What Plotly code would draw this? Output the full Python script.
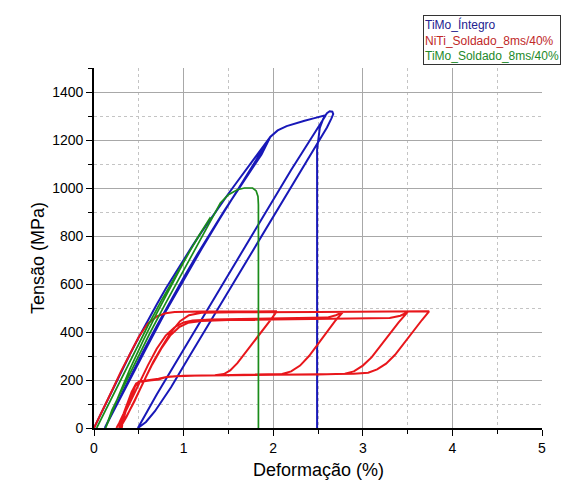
import plotly.graph_objects as go

# --- TiMo_Íntegro: two loading cycles, hardening to peak, then fracture ---
timo_int_strain = [
    0.00, 0.10, 0.20, 0.30, 0.40, 0.50, 0.60, 0.70, 0.80, 0.90, 1.00, 1.10, 1.20, 1.30, 1.40,
    1.50, 1.60, 1.70, 1.80, 1.90, 1.97,
    1.80, 1.60, 1.40, 1.20, 1.00, 0.80, 0.60, 0.40, 0.25, 0.12,
    0.25, 0.40, 0.55, 0.70, 0.85, 1.00, 1.15, 1.30, 1.45, 1.60, 1.75, 1.87, 1.97,
    2.05, 2.15, 2.25, 2.35, 2.45, 2.52, 2.57, 2.58,
    2.20, 1.80, 1.40, 1.00, 0.70, 0.49,
    0.58, 0.68, 0.78, 0.86, 1.05, 1.30, 1.55, 1.80, 2.05, 2.30, 2.50, 2.60, 2.65, 2.67, 2.66, 2.63,
    2.60, 2.56, 2.52, 2.50, 2.49, 2.49,
]
timo_int_stress = [
    0, 78, 156, 232, 306, 378, 448, 515, 580, 642, 702, 760, 816, 871, 924,
    976, 1027, 1077, 1127, 1177, 1214,
    1110, 992, 870, 746, 618, 485, 345, 200, 90, 0,
    98, 210, 320, 425, 527, 626, 722, 815, 903, 988, 1070, 1140, 1214,
    1240, 1258, 1270, 1280, 1290, 1297, 1302, 1299,
    1075, 826, 577, 328, 140, 0,
    25, 70, 125, 170, 290, 445, 600, 755, 910, 1065, 1190, 1252, 1290, 1308, 1318, 1320,
    1312, 1290, 1250, 1200, 1160, 0,
]

# --- NiTi_Soldado_8ms/40%: superelastic cycles of increasing strain ---
niti_strain = [
    # cycle 1 (to ~2.0 %)
    0.00, 0.10, 0.20, 0.30, 0.40, 0.50, 0.60, 0.70, 0.80, 0.90, 1.20, 1.60, 2.00, 2.04,
    1.98, 1.90, 1.80, 1.70, 1.60, 1.52, 1.45, 1.35, 1.10, 0.90, 0.80, 0.72, 0.62, 0.52,
    0.47, 0.42, 0.38, 0.33, 0.28, 0.25,
    # cycle 2 (to ~2.8 %)
    0.32, 0.40, 0.50, 0.60, 0.70, 0.80, 0.90, 1.00, 1.10, 1.30, 1.80, 2.40, 2.60, 2.70, 2.78,
    2.70, 2.60, 2.50, 2.40, 2.30, 2.20, 2.10, 1.80, 1.40, 1.00, 0.82, 0.72, 0.60, 0.50,
    0.45, 0.40, 0.35, 0.30, 0.28,
    # cycle 3 (to ~3.5 %)
    0.35, 0.45, 0.55, 0.65, 0.75, 0.85, 0.95, 1.05, 1.20, 1.50, 2.00, 3.00, 3.30, 3.42, 3.50,
    3.40, 3.30, 3.20, 3.10, 3.00, 2.90, 2.80, 2.50, 2.00, 1.50, 1.00, 0.82, 0.72, 0.60, 0.50,
    0.45, 0.40, 0.35, 0.30, 0.29,
    # cycle 4 (to ~3.7 %)
    0.36, 0.46, 0.56, 0.66, 0.76, 0.86, 0.96, 1.06, 1.20, 1.60, 2.50, 3.50, 3.74,
    3.66, 3.56, 3.46, 3.36, 3.26, 3.16, 3.06, 2.90, 2.50, 2.00, 1.50, 1.00, 0.82, 0.72, 0.60, 0.50,
    0.46, 0.41, 0.36, 0.32, 0.31,
]
niti_stress = [
    0, 75, 155, 235, 310, 380, 435, 465, 478, 483, 485, 485, 486, 486,
    455, 415, 365, 315, 270, 240, 225, 220, 218, 216, 212, 202, 198, 195,
    185, 150, 110, 60, 20, 0,
    45, 105, 185, 260, 330, 385, 420, 440, 448, 452, 455, 457, 460, 470, 484,
    450, 400, 350, 300, 260, 236, 225, 222, 220, 218, 213, 203, 198, 192,
    170, 125, 70, 20, 0,
    40, 110, 190, 265, 330, 385, 420, 438, 446, 450, 452, 455, 458, 468, 483,
    440, 390, 340, 295, 260, 236, 226, 223, 222, 220, 218, 214, 205, 199, 193,
    172, 128, 75, 22, 0,
    45, 120, 200, 275, 340, 400, 445, 470, 480, 482, 483, 484, 486,
    450, 400, 350, 305, 268, 244, 230, 226, 224, 222, 220, 218, 214, 204, 199, 194,
    175, 130, 78, 25, 0,
]

# --- TiMo_Soldado_8ms/40%: partial cycle, reload to peak, fracture ---
timo_sold_strain = [
    0.03, 0.15, 0.30, 0.45, 0.60, 0.75, 0.90, 1.05, 1.20, 1.30,
    1.15, 1.00, 0.85, 0.70, 0.55, 0.40, 0.27, 0.18, 0.13,
    0.20, 0.35, 0.50, 0.63, 0.80, 0.96, 1.12, 1.27, 1.41, 1.50, 1.60, 1.68, 1.77,
    1.81, 1.83, 1.835, 1.835,
]
timo_sold_stress = [
    0, 90, 205, 318, 425, 530, 630, 725, 818, 878,
    790, 690, 585, 478, 365, 245, 130, 45, 0,
    75, 190, 300, 400, 520, 630, 742, 845, 937, 972, 993, 1000, 1000,
    988, 965, 930, 0,
]

x_ticks = [0, 1, 2, 3, 4, 5]
y_ticks = [0, 200, 400, 600, 800, 1000, 1200, 1400]

series_names = ["TiMo_Íntegro", "NiTi_Soldado_8ms/40%", "TiMo_Soldado_8ms/40%"]
line_colors = ["#1818b8", "#e8161b", "#1a8c1a"]
label_colors = ["#22228f", "#c02828", "#22892a"]

fig = go.Figure()
for xs, ys, name, col, w in [
    (timo_int_strain, timo_int_stress, series_names[0], line_colors[0], 2.0),
    (niti_strain, niti_stress, series_names[1], line_colors[1], 2.0),
    (timo_sold_strain, timo_sold_stress, series_names[2], line_colors[2], 1.7),
]:
    fig.add_trace(go.Scatter(x=xs, y=ys, mode="lines", name=name,
                             line=dict(color=col, width=w), showlegend=False))

axis_font = dict(family="Liberation Sans, Arial, sans-serif", size=14, color="black")
fig.update_xaxes(
    range=[0, 5], tickvals=x_ticks, ticktext=[str(v) for v in x_ticks],
    showline=True, linecolor="black", linewidth=1.8, mirror=False,
    ticks="outside", ticklen=6, tickwidth=1.4, tickcolor="black",
    showgrid=True, gridcolor="#a8a8a8", gridwidth=1, zeroline=False,
    tickfont=axis_font,
    minor=dict(dtick=0.5, ticks="outside", ticklen=4, tickcolor="black", tickwidth=1.2,
               showgrid=True, gridcolor="#c4c4c4", griddash="dot", gridwidth=1),
)
fig.update_yaxes(
    range=[0, 1500], tickvals=y_ticks, ticktext=[str(v) for v in y_ticks],
    showline=True, linecolor="black", linewidth=1.8, mirror=False,
    ticks="outside", ticklen=6, tickwidth=1.4, tickcolor="black",
    showgrid=True, gridcolor="#a8a8a8", gridwidth=1, zeroline=False,
    tickfont=axis_font,
    minor=dict(dtick=100, ticks="outside", ticklen=4, tickcolor="black", tickwidth=1.2,
               showgrid=True, gridcolor="#c4c4c4", griddash="dot", gridwidth=1),
)

legend_text = "<br>".join(
    f'<span style="color:{c}">{n}</span>' for n, c in zip(series_names, label_colors)
)

fig.update_layout(
    width=570, height=486,
    margin=dict(l=94, r=28, t=68, b=58),
    paper_bgcolor="white", plot_bgcolor="white",
    font=dict(family="Liberation Sans, Arial, sans-serif", color="black"),
    annotations=[
        dict(text="Deformação (%)", xref="paper", yref="paper", x=0.5, y=-0.117,
             xanchor="center", yanchor="middle", showarrow=False,
             font=dict(size=18, color="black")),
        dict(text="Tensão (MPa)", xref="paper", yref="paper", x=-0.125, y=0.472,
             xanchor="center", yanchor="middle", showarrow=False, textangle=-90,
             font=dict(size=18, color="black")),
        dict(text=legend_text, xref="paper", yref="paper", x=0.734, y=1.148,
             xanchor="left", yanchor="top", align="left", showarrow=False,
             bordercolor="#333333", borderwidth=1, borderpad=1, bgcolor="white",
             font=dict(size=12)),
    ],
)

fig.write_html("out.html")
